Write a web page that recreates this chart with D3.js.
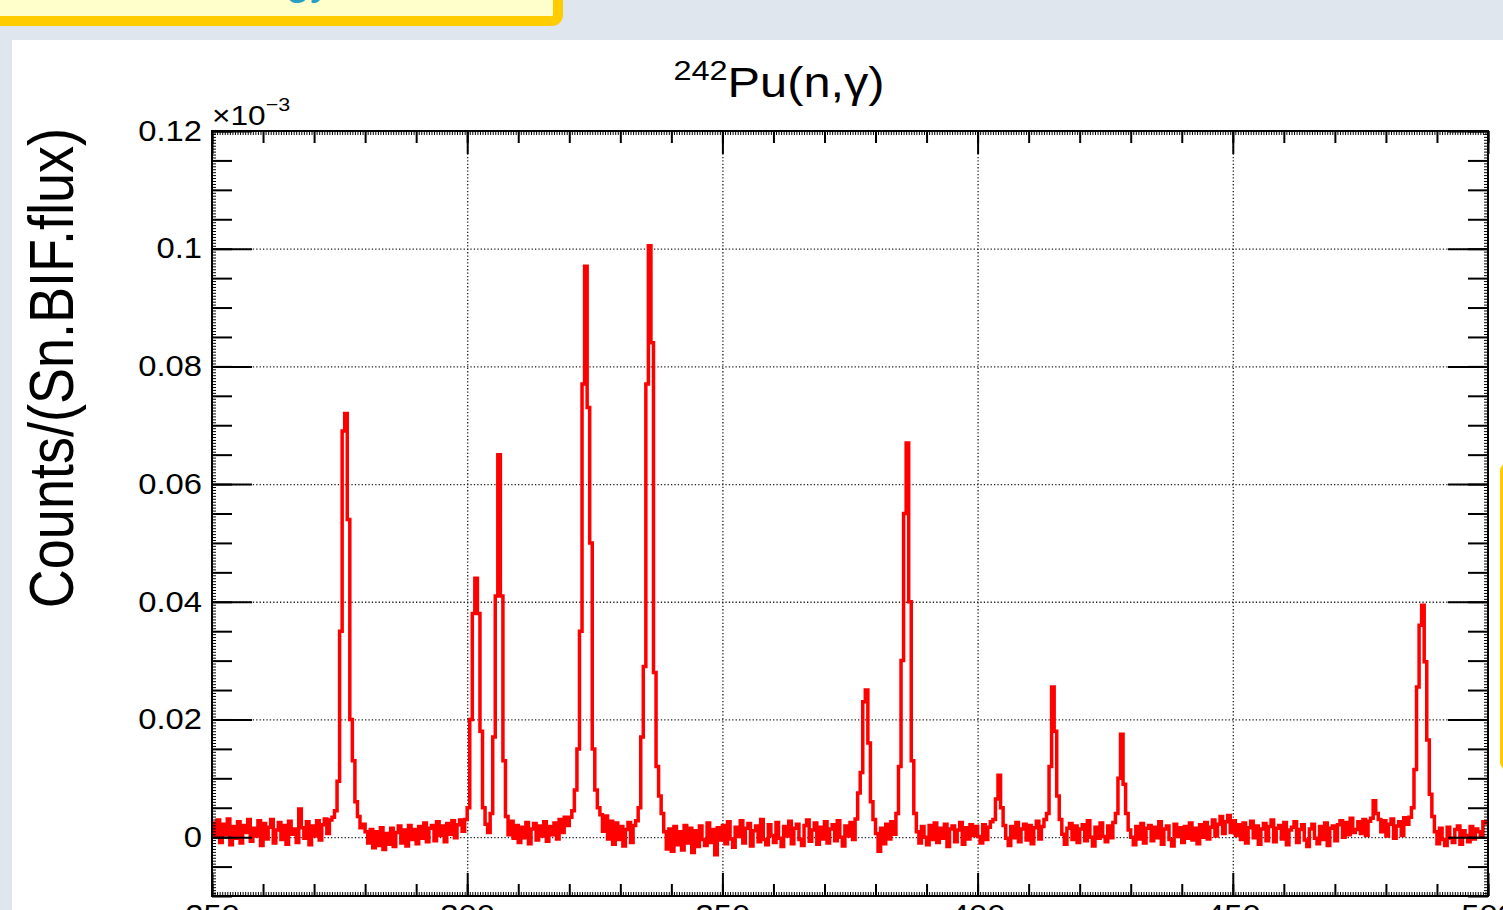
<!DOCTYPE html>
<html>
<head>
<meta charset="utf-8">
<script src="https://cdn.jsdelivr.net/npm/d3@7"></script>
<style>
html, body { margin: 0; padding: 0; background: #dfe6ee; overflow: hidden; }
svg { display: block; }
text { font-family: "Liberation Sans", Arial, Helvetica, sans-serif; }
</style>
</head>
<body>
<div id="chart"></div>
<script>
// bins are 0.5 wide starting at 250; values in units of 1e-6 (axis shows x10^-3)
var binStart = 250, binWidth = 0.5;
var counts250 = [
  2.4, 0.1, 2.9, -0.9, 2.2, 0.4, 3.1, -1.3, 1.8, -0.2,
  2.6, -1.0, 2.0, 0.8, 3.0, -0.7, 1.5, 0.2, 2.8, -1.4,
  2.3, -0.3, 1.7, 3.0, -1.0, 1.2, 2.5, -0.4, 2.0, -1.2,
  2.7, 0.5, 1.4, -0.9, 4.8, 1.6, -0.2, 2.6, -1.3, 1.9,
  0.2, 2.8, -0.5, 2.1, 3.1, 0.6, 2.9, 3.4, 4.5, 9.5,
  35, 69, 72, 54, 20, 13, 6, 3.5, 1.6, 2.2,
  0.9, -1.0, 1.3, -1.8, 0.9, -1.4, 1.6, -2.1, 0.6, -1.2,
  1.5, -1.6, 0.8, 1.9, -1.0, 1.2, -1.5, 2.0, -0.4, 1.3,
  -1.1, 1.8, -0.2, 2.4, -0.8, 1.5, 2.0, -0.6, 2.6, 0.3,
  1.9, -0.8, 2.3, 0.5, 2.8, -0.1, 2.1, 2.9, 1.0, 3.0
];
var counts300 = [
  5, 20, 38, 44, 38, 18, 5, 2.2, 0.8, 4,
  17, 41, 65, 41, 13, 3.5, 0.4, 2.7, -0.2, 2.0,
  -0.9, 1.7, -0.1, 2.5, -1.1, 1.4, 2.3, -0.5, 1.9, 0.2,
  2.6, -0.7, 1.8, 0.4, 2.4, -0.3, 3.0, 0.8, 3.4, 2.0,
  3.4, 4.5, 8, 15, 35, 77, 97, 73, 50, 15,
  8, 5, 3.8, 1.0, 3.6, -0.3, 2.7, -1.2, 2.4, -0.4,
  1.8, -1.5, 1.3, 2.5, -0.9, 2.0, 2.8, 5, 17, 29,
  77, 100.5, 84, 28, 12, 7, 4, 0.9, -2.0, 1.4,
  -2.4, 1.8, -1.3, 0.9, -2.2, 2.0, -1.0, 1.5, -2.6, 1.1,
  -1.6, 1.9, -0.4, -1.4, 2.4, -0.9, 1.3, -3.0, 1.6, -0.5
];
var counts350 = [
  2.0, -1.1, 2.6, -0.3, -1.7, 1.7, 0.1, 2.8, -1.0, 1.5,
  2.3, -1.5, 1.1, 1.9, -0.8, 3.0, -0.4, -1.3, 2.1, 0.3,
  -0.9, 2.5, -0.2, -1.6, 1.8, 0.2, 2.7, -1.1, 1.5, 2.2,
  -0.4, -1.4, 2.0, 2.9, -0.7, 1.2, 2.4, -1.2, 1.7, -0.3,
  2.6, -1.0, 1.4, 2.1, -0.6, 2.8, 0.0, -1.5, 1.9, 0.2,
  2.5, -0.4, 3.1, 7.5, 11, 23, 25, 16, 6, 3,
  0.6, -2.4, 1.5, -1.1, 2.2, -0.3, 2.6, 0.5, 4, 12,
  30, 55, 67, 40, 13, 4, 0.9, -1.0, 1.8, 0.0,
  -1.3, 2.0, -0.4, 2.4, -0.9, 1.5, -0.2, 2.2, -1.6, 1.4,
  1.9, -0.8, 1.2, 2.5, -1.2, 1.6, -0.3, 2.1, 0.3, 1.8
];
var counts400 = [
  0.1, -1.0, 2.1, -0.4, 1.7, 2.6, 3, 6.5, 10.5, 5,
  2, -0.2, -1.4, 1.8, -0.1, 2.5, -0.8, 1.4, 2.2, -0.5,
  2.0, -1.1, 1.6, 2.7, -0.3, 1.8, 3.0, 4, 12, 25.5,
  18, 7, 3, 0.5, -1.2, 1.5, 2.3, -0.4, 1.9, -0.9,
  1.4, 2.1, -0.6, 2.8, 0.0, -1.5, 1.7, -0.2, 2.4, 0.1,
  -0.8, 1.9, -0.1, 2.5, 4, 10, 17.5, 9, 4, 1.2,
  0.0, -1.3, 1.8, -0.3, 2.3, -1.0, 1.5, 2.0, -0.6, 1.7,
  -0.1, 2.6, -1.2, 1.4, 1.9, -0.4, -1.5, 2.2, 0.1, 1.6,
  -0.9, 1.8, -0.2, 2.4, -0.5, 1.5, -1.1, 2.1, 0.0, 2.5,
  -0.3, 1.7, 2.9, 0.2, 2.2, 3.5, 0.6, 2.6, 3.7, 0.8
];
var counts450 = [
  2.8, 0.3, 2.1, -0.4, 2.4, -1.0, 1.6, 2.7, -0.1, 1.9,
  -1.2, 1.4, 2.3, -0.6, 1.8, 2.9, -0.8, 1.5, 2.0, -0.3,
  2.5, -1.3, 1.2, 1.7, 2.6, -0.9, 1.3, 2.1, -0.5, -1.6,
  1.4, 2.2, -0.2, -1.1, 1.8, -0.4, 2.4, -1.4, 1.5, 1.9,
  -0.6, 2.1, 2.8, 0.0, 2.5, 0.4, 3.2, 0.8, 1.3, 2.6,
  0.6, 3.0, 0.3, 2.7, 3.2, 6.2, 4, 3, 0.9, 2.8,
  0.2, 2.2, 3.1, -0.2, 1.9, 2.6, 0.3, 3.3, 2.2, 3.4,
  5, 11.5, 25.5, 36, 39.4, 29.8, 16.5, 7.3, 3.5, 0.9,
  -1.1, 1.5, -0.4, -1.4, 1.7, -0.2, -0.9, 1.3, 1.9, -1.2,
  1.1, 0.3, -0.8, 1.8, -0.3, 1.4, 0.9, 0.0, 2.6, 2.4
];
var yMajorTicks = [0, 20, 40, 60, 80, 100, 120];
var xMajorTicks = [250, 300, 350, 400, 450, 500];
var yTitle = "Counts/(Sn.BIF.flux)";

var W = 1503, H = 910;
var frame = { left: 212, right: 1488, top: 131, bottom: 896 };
var stretch = 1.13; // text in the screenshot is a bit wider than it is tall

var svg = d3.select("#chart").append("svg")
    .attr("width", W)
    .attr("height", H);

// slide background bits
svg.append("rect").attr("width", W).attr("height", H).attr("fill", "#dfe6ee");
svg.append("rect")
    .attr("x", -20).attr("y", -20).attr("width", 578).attr("height", 41)
    .attr("rx", 6)
    .attr("fill", "#ffffcc").attr("stroke", "#ffcc00").attr("stroke-width", 10);
svg.append("text")
    .attr("x", 332).attr("y", -6)
    .attr("text-anchor", "end")
    .style("font-size", "44px")
    .style("fill", "#2a9fc4")
    .text("Energy");
svg.append("rect")
    .attr("x", 12).attr("y", 40).attr("width", W).attr("height", H)
    .attr("fill", "#ffffff");
svg.append("rect")
    .attr("x", 1503).attr("y", 465).attr("width", 60).attr("height", 303)
    .attr("rx", 6)
    .attr("fill", "#ffffcc").attr("stroke", "#ffcc00").attr("stroke-width", 6);

var x = d3.scaleLinear()
    .domain([250, 500])
    .range([frame.left, frame.right]);
var y = d3.scaleLinear()
    .domain([-10, 120])
    .range([frame.bottom, frame.top]);

var plotW = frame.right - frame.left,
    plotH = frame.bottom - frame.top;

// dotted grid
svg.append("g")
    .attr("class", "grid")
    .attr("transform", "translate(0," + frame.bottom + ")")
    .call(d3.axisBottom(x).tickValues([300, 350, 400, 450]).tickSize(-plotH).tickFormat(""));
svg.append("g")
    .attr("class", "grid")
    .attr("transform", "translate(" + frame.left + ",0)")
    .call(d3.axisLeft(y).tickValues([0, 20, 40, 60, 80, 100]).tickSize(-plotW).tickFormat(""));
svg.selectAll(".grid .domain").remove();
svg.selectAll(".grid line")
    .attr("stroke", "#222")
    .attr("stroke-width", 1.3)
    .attr("stroke-dasharray", "1.3,2.1");

// histogram
var counts = counts250.concat(counts300, counts350, counts400, counts450);
var pts = counts.map(function(v, i) { return [binStart + i * binWidth, v]; });
pts.push([binStart + counts.length * binWidth, counts[counts.length - 1]]);

svg.append("clipPath").attr("id", "clip")
    .append("rect")
    .attr("x", frame.left).attr("y", frame.top)
    .attr("width", plotW).attr("height", plotH);

var line = d3.line()
    .x(function(d) { return x(d[0]); })
    .y(function(d) { return y(d[1]); })
    .curve(d3.curveStepAfter);

svg.append("path")
    .datum(pts)
    .attr("clip-path", "url(#clip)")
    .attr("fill", "none")
    .attr("stroke", "#ff0000")
    .attr("stroke-width", 3.5)
    .attr("stroke-linejoin", "miter")
    .attr("d", line);

// axes with three levels of ticks, all pointing inside
function tickAxis(axisFn, scale, values, size, pos, cls) {
    var g = svg.append("g")
        .attr("class", cls)
        .attr("transform", pos)
        .call(axisFn(scale).tickValues(values).tickSize(size).tickFormat(""));
    g.select(".domain").remove();
    return g;
}
var yMinor = d3.range(-10, 120.001, 5),
    yTiny = d3.range(-10, 120.001, 0.5),
    xMinor = d3.range(250, 500.001, 10),
    xTiny = d3.range(250, 500.001, 0.5);

tickAxis(d3.axisLeft, y, yTiny, -4, "translate(" + frame.left + ",0)", "tiny");
tickAxis(d3.axisRight, y, yTiny, -4, "translate(" + frame.right + ",0)", "tiny");
tickAxis(d3.axisBottom, x, xTiny, -4, "translate(0," + frame.bottom + ")", "tiny");
tickAxis(d3.axisTop, x, xTiny, -4, "translate(0," + frame.top + ")", "tiny");
tickAxis(d3.axisLeft, y, yMinor, -20, "translate(" + frame.left + ",0)", "minor");
tickAxis(d3.axisRight, y, yMinor, -20, "translate(" + frame.right + ",0)", "minor");
tickAxis(d3.axisBottom, x, xMinor, -12, "translate(0," + frame.bottom + ")", "minor");
tickAxis(d3.axisTop, x, xMinor, -12, "translate(0," + frame.top + ")", "minor");
tickAxis(d3.axisRight, y, yMajorTicks, -40, "translate(" + frame.right + ",0)", "major");
tickAxis(d3.axisTop, x, xMajorTicks, -23, "translate(0," + frame.top + ")", "major");

var yAxis = svg.append("g")
    .attr("class", "major")
    .attr("transform", "translate(" + frame.left + ",0)")
    .call(d3.axisLeft(y).tickValues(yMajorTicks).tickSize(-40).tickPadding(10)
        .tickFormat(function(d) { return d3.format("~g")(d / 1000); }));
var xAxis = svg.append("g")
    .attr("class", "major")
    .attr("transform", "translate(0," + frame.bottom + ")")
    .call(d3.axisBottom(x).tickValues(xMajorTicks).tickSize(-23).tickPadding(8));
yAxis.select(".domain").remove();
xAxis.select(".domain").remove();

svg.selectAll(".tiny line").attr("stroke", "#000").attr("stroke-width", 1);
svg.selectAll(".minor line, .major line").attr("stroke", "#000").attr("stroke-width", 2);
svg.selectAll(".major text")
    .style("font-size", "29px")
    .style("font-family", "'Liberation Sans', Arial, sans-serif")
    .attr("fill", "#000")
    .attr("transform", function() {
        var x0 = +(d3.select(this).attr("x") || 0);
        return "translate(" + x0 + ",0) scale(" + stretch + ",1) translate(" + (-x0) + ",0)";
    });

svg.append("rect")
    .attr("x", frame.left).attr("y", frame.top)
    .attr("width", plotW).attr("height", plotH)
    .attr("fill", "none").attr("stroke", "#000").attr("stroke-width", 2);

// exponent label
var expo = svg.append("text")
    .attr("transform", "translate(" + frame.left + ",125) scale(" + stretch + ",1)")
    .style("font-size", "28px");
expo.append("tspan").text("\u00d710");
expo.append("tspan").attr("dy", -14).style("font-size", "19px").text("\u22123");

// title
var title = svg.append("text")
    .attr("transform", "translate(779,97) scale(" + (stretch + 0.03) + ",1)")
    .attr("text-anchor", "middle")
    .style("font-size", "42px");
title.append("tspan").attr("dy", -17).style("font-size", "28px").text("242");
title.append("tspan").attr("dy", 17).text("Pu(n,\u03b3)");

// y axis title
svg.append("text")
    .attr("transform", "translate(73,128) scale(" + (stretch + 0.02) + ",1) rotate(-90)")
    .attr("text-anchor", "end")
    .style("font-size", "54px")
    .text(yTitle);
</script>
</body>
</html>
